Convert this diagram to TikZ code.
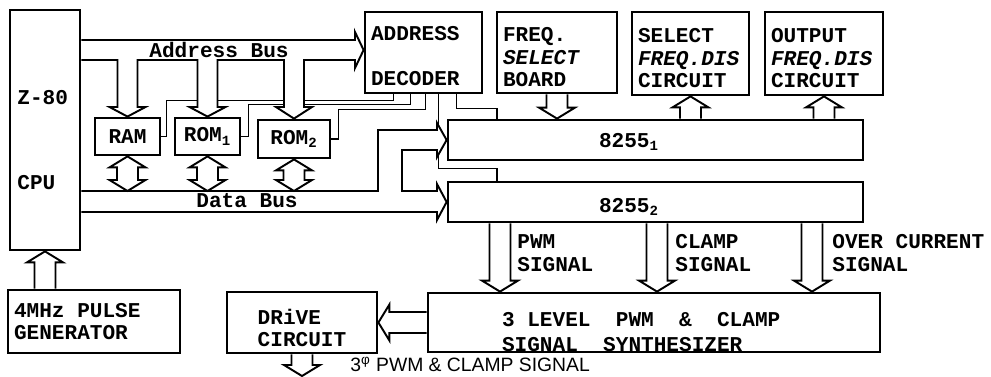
\documentclass[tikz,border=0pt]{standalone}
\usepackage{fontspec}
\setmainfont{Liberation Mono}
\newfontfamily\handfont{Liberation Sans}
\usetikzlibrary{calc,positioning}

\newcommand{\shaftw}{0.21cm}
\newcommand{\barbw}{0.36cm}
\newcommand{\headl}{0.22cm}
\newcommand{\gap}{\phantom{X}}

% hollow bus arrow, from #1 to the tip #2
\newcommand{\busarrow}[2]{%
  \coordinate (ah) at ($(#2)!\headl!(#1)$);
  \draw[bus] ($(#1)!\shaftw!90:(#2)$) -- ($(ah)!\shaftw!90:(#2)$)
    -- ($(ah)!\barbw!90:(#2)$) -- (#2) -- ($(ah)!\barbw!-90:(#2)$)
    -- ($(ah)!\shaftw!-90:(#2)$) -- ($(#1)!\shaftw!-90:(#2)$);}
% hollow bus arrow, tips at both ends
\newcommand{\busboth}[2]{%
  \coordinate (ha) at ($(#1)!\headl!(#2)$);
  \coordinate (hb) at ($(#2)!\headl!(#1)$);
  \draw[bus] (#1) -- ($(ha)!\barbw!90:(#2)$) -- ($(ha)!\shaftw!90:(#2)$)
    -- ($(hb)!\shaftw!90:(#2)$) -- ($(hb)!\barbw!90:(#2)$) -- (#2)
    -- ($(hb)!\barbw!-90:(#2)$) -- ($(hb)!\shaftw!-90:(#2)$)
    -- ($(ha)!\shaftw!-90:(#2)$) -- ($(ha)!\barbw!-90:(#2)$) -- cycle;}

\begin{document}
\begin{tikzpicture}[x=0.02cm,y=-0.02cm,
    blk/.style={draw,line width=1.6pt,inner xsep=0.12cm,inner ysep=0pt,align=left,
      font=\fontsize{12}{12.8}\selectfont\bfseries},
    txt/.style={inner sep=0pt,align=left,font=\fontsize{12}{12.8}\selectfont\bfseries},
    bus/.style={draw,line width=1.1pt,fill=white,line join=miter},
    sel/.style={draw,line width=1pt}
  ]
  \useasboundingbox (0,0) rectangle (991,376);

  % blocks
  \node[blk,minimum width=1.4cm,minimum height=4.8cm] (cpu) at (45,130) {};
  \node[txt,anchor=west] (cpu-a) at (17,98) {Z-80};
  \node[txt,anchor=west] (cpu-b) at (17,183) {CPU};
  \node[blk,minimum width=1.3cm,minimum height=0.74cm] (ram) at (127.5,136.5) {RAM};
  \node[blk,minimum width=1.3cm,minimum height=0.74cm] (rom1) at (207.5,136.5) {ROM\textsubscript{1}};
  \node[blk,minimum width=1.44cm,minimum height=0.76cm] (rom2) at (294,139) {ROM\textsubscript{2}};
  \node[blk,minimum height=1.62cm,text width=2.1cm] (dec) at (423.5,52.5)
    {\rule{0pt}{12.5pt}ADDRESS\\\mbox{}\\DECODER};
  \node[blk,minimum height=1.62cm,text width=2.16cm] (fsb) at (557,52.5)
    {\rule{0pt}{13.5pt}FREQ.\\\textit{SELECT}\\BOARD};
  \node[blk,minimum height=1.66cm,text width=2.1cm] (sfd) at (690.5,53.5)
    {\rule{0pt}{13.5pt}SELECT\\\textit{FREQ.DIS}\\CIRCUIT};
  \node[blk,minimum height=1.66cm,text width=2.12cm] (ofd) at (824,53.5)
    {\rule{0pt}{13.5pt}OUTPUT\\\textit{FREQ.DIS}\\CIRCUIT};
  \node[blk,minimum width=8.3cm,minimum height=0.8cm] (p1) at (655.5,140) {};
  \node[txt] (p1-t) at (629,142) {8255\textsubscript{1}};
  \node[blk,minimum width=8.3cm,minimum height=0.8cm] (p2) at (655.5,202) {};
  \node[txt] (p2-t) at (629,207) {8255\textsubscript{2}};
  \node[blk,minimum height=1.18cm,inner xsep=1.48cm,text width=6.08cm] (syn) at (654,322.5)
    {\rule{0pt}{19pt}3\gap LEVEL\gap\gap PWM\gap\gap\&\gap\gap CLAMP\\[1pt]SIGNAL\gap\gap SYNTHESIZER};
  \node[blk,minimum width=3cm,minimum height=1.22cm] (drv) at (302,322.5)
    {\rule{0pt}{15pt}DRiVE\\CIRCUIT};
  \node[blk,minimum height=1.26cm,text width=3.2cm] (pg) at (94,321.5) {4MHz\gap PULSE\\GENERATOR};

  % chip select lines
  \draw[sel] (ram.east) -- ++(5,0) |- ($(dec.south west)+(30,6)$) -- ++(0,-6);
  \draw[sel] (rom1.east) -- ++(7,0) |- ($(dec.south west)+(47,10)$) -- ++(0,-10);
  \draw[sel] (rom2.east) -- ++(7,0) |- ($(dec.south west)+(62,15)$) -- ++(0,-15);
  \draw[sel] ($(dec.south west)+(93,0)$) -- ++(0,14) -| ($(p1.north west)+(50,0)$);
  \draw[sel] ($(dec.south west)+(75,0)$) |- ($(p2.north west)+(50,-12)$)
    -- ($(p2.north west)+(50,0)$);

  % address bus
  \draw[bus] (cpu.east |- 0,40) -- (355,40) -- (355,32) -- (dec.west |- 0,50)
    -- (355,68) -- (355,60)
    -- (304,60) -- (304,107) -- (312,107) -- (rom2.north) -- (276,107) -- (284,107) -- (284,60)
    -- (217.5,60) -- (217.5,107) -- (225.5,107) -- (rom1.north) -- (189.5,107)
    -- (197.5,107) -- (197.5,60)
    -- (137.5,60) -- (137.5,107) -- (145.5,107) -- (ram.north) -- (109.5,107)
    -- (117.5,107) -- (117.5,60) -- (cpu.east |- 0,60);
  \node[txt] (ab-t) at (219,50) {Address\gap Bus};

  % data bus
  \draw[bus] (cpu.east |- 0,191) -- (378,191) -- (378,130) -- (437,130) -- (437,123)
    -- (p1.west) -- (437,157) -- (437,150) -- (402,150) -- (402,191) -- (437,191)
    -- (437,184) -- (p2.west) -- (437,220) -- (437,212) -- (cpu.east |- 0,212);
  \node[txt] (db-t) at (247,201) {Data\gap Bus};
  \busboth{ram.south}{ram.south |- 0,191}
  \busboth{rom1.south}{rom1.south |- 0,191}
  \busboth{rom2.south}{rom2.south |- 0,191}

  % other buses
  \busarrow{fsb.south}{fsb.south |- p1.north}
  \busarrow{p1.north -| sfd.south}{sfd.south}
  \busarrow{p1.north -| ofd.south}{ofd.south}
  \busarrow{p2.south -| 500,0}{syn.north -| 500,0}
  \busarrow{p2.south -| 657,0}{syn.north -| 657,0}
  \busarrow{p2.south -| 812,0}{syn.north -| 812,0}
  \busarrow{syn.west}{drv.east}
  \busarrow{drv.south}{drv.south |- 0,376}
  \busarrow{pg.north -| cpu.south}{cpu.south}

  % signal labels
  \node[txt,anchor=west] (pwm-t) at (517,253) {PWM\\SIGNAL};
  \node[txt,anchor=west] (clamp-t) at (675,253) {CLAMP\\SIGNAL};
  \node[txt,anchor=west] (oc-t) at (832,253) {OVER\gap CURRENT\\SIGNAL};
  \node[inner sep=0pt,anchor=base west,font=\handfont\fontsize{11}{12}\selectfont] (out-t)
    at (350,371) {3\textsuperscript{φ} PWM \& CLAMP SIGNAL};
\end{tikzpicture}
\end{document}
